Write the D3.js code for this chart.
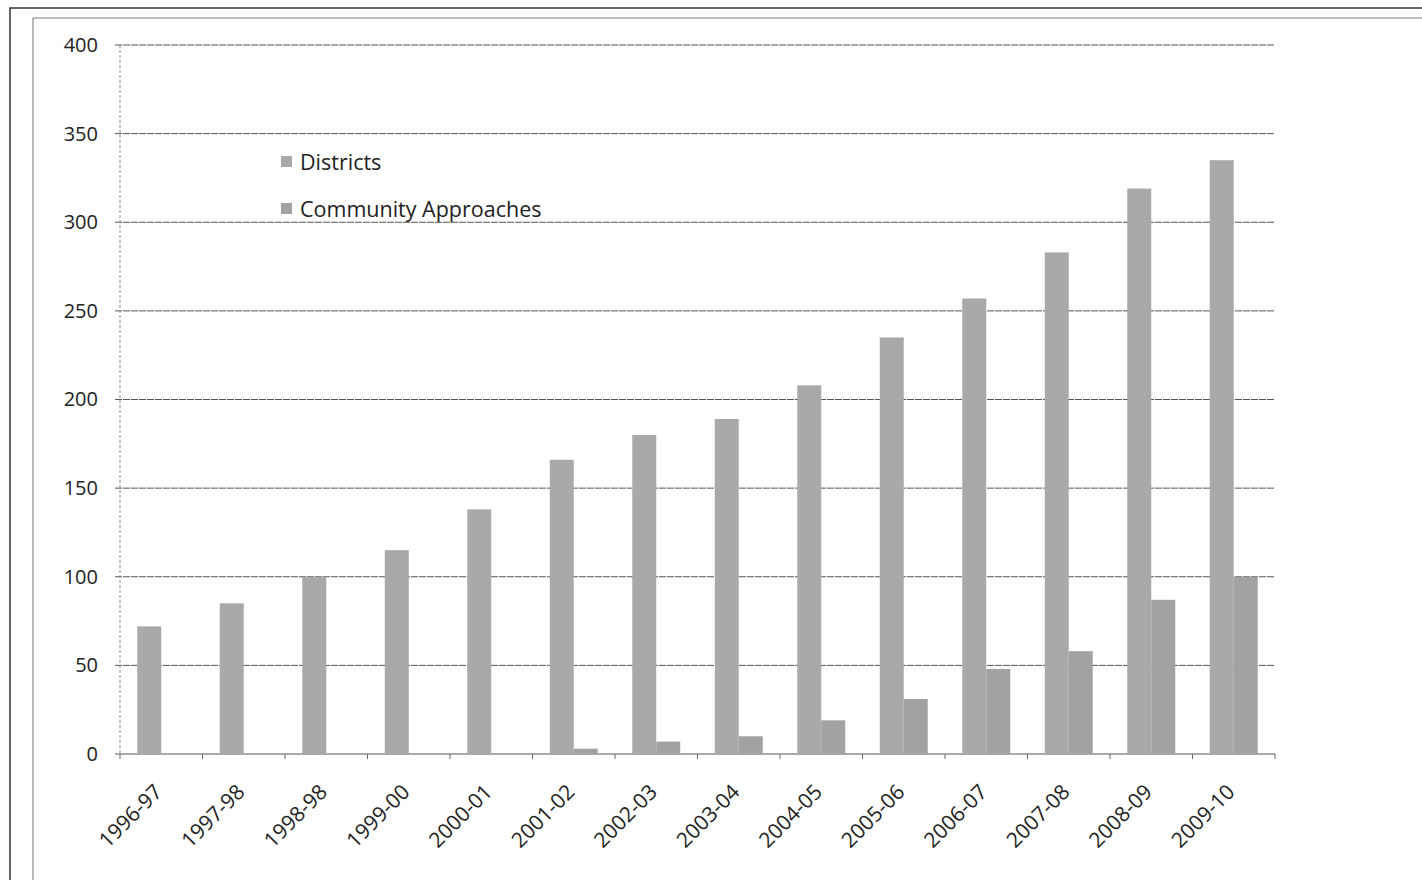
<!DOCTYPE html>
<html><head><meta charset="utf-8">
<script src="https://cdn.jsdelivr.net/npm/d3@7"></script>
<style>body{margin:0;background:#fff;}svg{display:block;}</style>
</head><body>
<script>
const categories = ["1996-97","1997-98","1998-98","1999-00","2000-01","2001-02","2002-03","2003-04","2004-05","2005-06","2006-07","2007-08","2008-09","2009-10"];
const districts = [72,85,100,115,138,166,180,189,208,235,257,283,319,335];
const community = [0,0,0,0,0,3,7,10,19,31,48,58,87,100];
const seriesNames = ["Districts","Community Approaches"];
const yTicks = [0,50,100,150,200,250,300,350,400];

const W=1422,H=880;
const svg=d3.select("body").append("svg").attr("width",W).attr("height",H);
// frames
svg.append("path").attr("d","M10,880 V8 H1422").attr("fill","none").attr("stroke","#333").attr("stroke-width",1.5);
svg.append("path").attr("d","M33,880 V18 H1422").attr("fill","none").attr("stroke","#777").attr("stroke-width",1);

const x0=120,x1=1275,yTop=45,yBot=754;
const x=d3.scaleBand().domain(categories).range([x0,x1]).paddingInner(0).paddingOuter(0);
const y=d3.scaleLinear().domain([0,400]).range([yBot,yTop]);
const xs=d3.scaleBand().domain(seriesNames).range([0,x.bandwidth()]).paddingInner(0).paddingOuter(0.72);

const FONT="Open Sans, sans-serif";
// grid
const g=svg.append("g");
g.selectAll(".grid").data(yTicks).join("line")
 .attr("x1",x0-5).attr("x2",x1).attr("y1",d=>y(d)).attr("y2",d=>y(d))
 .attr("stroke","#555").attr("stroke-width",1).attr("stroke-dasharray",d=>d===0?null:"7,1");
g.append("line").attr("x1",x0).attr("x2",x0).attr("y1",yTop).attr("y2",yBot).attr("stroke","#888").attr("stroke-dasharray","3,2");

// y axis labels
const yAxis=d3.axisLeft(y).tickValues(yTicks).tickSize(0).tickPadding(22);
const ya=svg.append("g").attr("transform",`translate(${x0},0)`).call(yAxis);
ya.select(".domain").remove();
ya.selectAll("text").attr("font-family",FONT).attr("font-size",20).attr("fill","#222");

// x ticks
svg.selectAll(".xt").data(d3.range(categories.length+1)).join("line")
 .attr("x1",i=>x0+i*x.bandwidth()).attr("x2",i=>x0+i*x.bandwidth())
 .attr("y1",yBot).attr("y2",yBot+5).attr("stroke","#666");

// bars
const data=categories.map((c,i)=>({c,vals:[districts[i],community[i]]}));
const colors=["#a9a9a9","#a2a2a2"];
const grp=svg.selectAll(".cat").data(data).join("g").attr("transform",d=>`translate(${x(d.c)},0)`);
grp.selectAll("rect").data(d=>d.vals.map((v,k)=>({v,k}))).join("rect")
 .attr("x",d=>xs(seriesNames[d.k])).attr("width",xs.bandwidth())
 .attr("y",d=>y(d.v)).attr("height",d=>yBot-y(d.v))
 .attr("fill",d=>colors[d.k]);

// x labels
svg.selectAll(".xl").data(categories).join("text")
 .attr("transform",d=>`translate(${x(d)+x.bandwidth()/2-3},${yBot+34}) rotate(-45)`)
 .attr("text-anchor","end").attr("dy","0.35em")
 .attr("font-family",FONT).attr("font-size",21).attr("fill","#222")
 .text(d=>d);

// legend
const lg=svg.append("g");
seriesNames.forEach((n,i)=>{
  const ly=162+i*47;
  lg.append("rect").attr("x",281).attr("y",ly-6).attr("width",11).attr("height",11).attr("fill",colors[i]);
  lg.append("text").attr("x",300).attr("y",ly).attr("dy","0.35em")
   .attr("font-family",FONT).attr("font-size",21.5).attr("fill","#222").text(n);
});
</script>
</body></html>
